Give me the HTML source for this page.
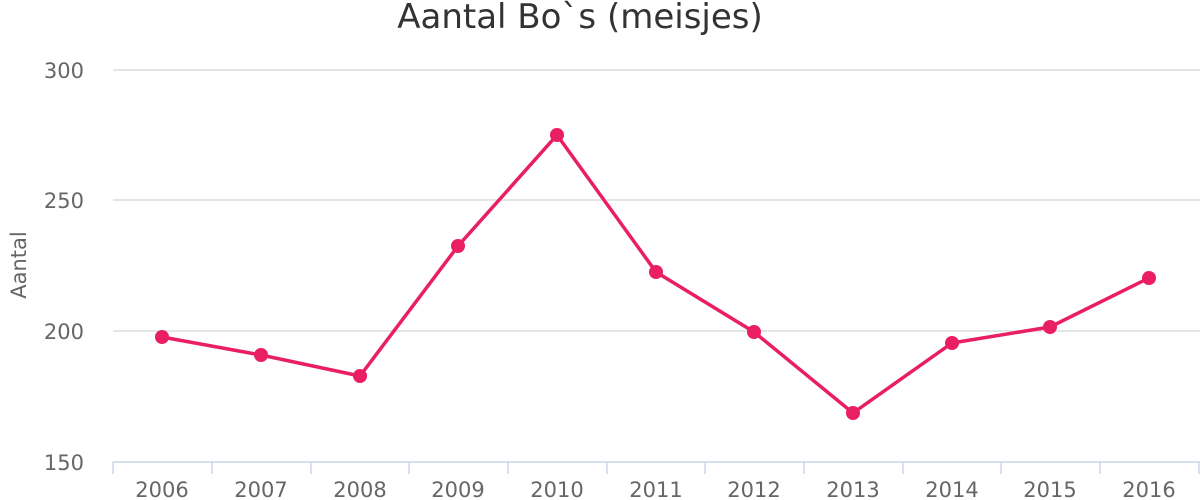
<!DOCTYPE html>
<html><head><meta charset="utf-8"><style>
body{margin:0;background:#fff;}
svg{display:block;font-family:"DejaVu Sans","Liberation Sans",sans-serif;}
</style></head><body>
<svg width="1200" height="500" viewBox="0 0 1200 500">
<text x="580" y="28" text-anchor="middle" font-size="34" fill="#333">Aantal Bo`s (meisjes)</text>
<g stroke="#d8dde3" stroke-width="1.5">
<line x1="113" y1="70" x2="1200" y2="70"/>
<line x1="113" y1="200" x2="1200" y2="200"/>
<line x1="113" y1="331" x2="1200" y2="331"/>
<line x1="113" y1="462" x2="1200" y2="462" stroke="#ccd6eb"/>
</g>
<g stroke="#ccd6eb" stroke-width="1.5">
<line x1="113" y1="462" x2="113" y2="474"/><line x1="212" y1="462" x2="212" y2="474"/>
<line x1="311" y1="462" x2="311" y2="474"/><line x1="409" y1="462" x2="409" y2="474"/>
<line x1="508" y1="462" x2="508" y2="474"/><line x1="607" y1="462" x2="607" y2="474"/>
<line x1="705" y1="462" x2="705" y2="474"/><line x1="804" y1="462" x2="804" y2="474"/>
<line x1="903" y1="462" x2="903" y2="474"/><line x1="1001" y1="462" x2="1001" y2="474"/>
<line x1="1100" y1="462" x2="1100" y2="474"/><line x1="1199" y1="462" x2="1199" y2="474"/>
</g>
<g font-size="21" fill="#666" text-anchor="end">
<text x="84" y="78">300</text><text x="84" y="208">250</text>
<text x="84" y="339">200</text><text x="84" y="470">150</text>
</g>
<text transform="translate(26,265) rotate(-90)" text-anchor="middle" font-size="21" fill="#666">Aantal</text>
<g font-size="21" fill="#666" text-anchor="middle">
<text x="162" y="497">2006</text><text x="261" y="497">2007</text><text x="360" y="497">2008</text>
<text x="458" y="497">2009</text><text x="557" y="497">2010</text><text x="656" y="497">2011</text>
<text x="754" y="497">2012</text><text x="853" y="497">2013</text><text x="952" y="497">2014</text>
<text x="1050" y="497">2015</text><text x="1149" y="497">2016</text>
</g>
<polyline fill="none" stroke="#e91e63" stroke-width="3.5" stroke-linejoin="round" points="162,337 261,355 360,376 458,246 557,135 656,272 754,332 853,413 952,343 1050,327 1149,278"/>
<g fill="#e91e63">
<circle cx="162" cy="337" r="7"/><circle cx="261" cy="355" r="7"/><circle cx="360" cy="376" r="7"/>
<circle cx="458" cy="246" r="7"/><circle cx="557" cy="135" r="7"/><circle cx="656" cy="272" r="7"/>
<circle cx="754" cy="332" r="7"/><circle cx="853" cy="413" r="7"/><circle cx="952" cy="343" r="7"/>
<circle cx="1050" cy="327" r="7"/><circle cx="1149" cy="278" r="7"/>
</g>
</svg>
</body></html>
